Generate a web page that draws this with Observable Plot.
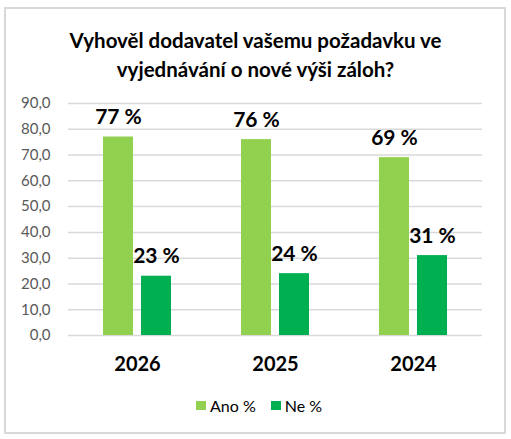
<!DOCTYPE html>
<html>
<head>
<meta charset="utf-8">
<script src="https://cdn.jsdelivr.net/npm/d3@7"></script>
<script src="https://cdn.jsdelivr.net/npm/@observablehq/plot@0.6"></script>
<style>
  body { margin: 0; background: #fff; font-family: Lato, "Open Sans", sans-serif; }
  #frame { position: absolute; left: 4px; top: 7px; width: 502px; height: 427px;
           border: 2px solid #d9d9d9; box-sizing: border-box; }
  #title { position: absolute; left: 0; top: 26px; width: 511px; text-align: center;
           font-weight: bold; font-size: 20.5px; line-height: 29px; color: #000; }
  #chart { position: absolute; left: 0; top: 80px; }
  #legend { position: absolute; left: 196px; top: 396px; font-size: 16px; color: #000;
            display: flex; align-items: center; }
  #legend .sw { display: inline-block; width: 10px; height: 9px; margin-right: 4px; }
  #legend .item { display: flex; align-items: center; margin-right: 15px; }
</style>
</head>
<body>
<div id="frame"></div>
<div id="title">Vyhověl dodavatel vašemu požadavku ve<br>vyjednávání o nové výši záloh?</div>
<div id="chart"></div>
<div id="legend"></div>
<script>
// hodnoty
const years = ["2026", "2025", "2024"];
const series = ["Ano %", "Ne %"];
const ano = [77, 76, 69];
const ne = [23, 24, 31];
const yTicks = [0, 10, 20, 30, 40, 50, 60, 70, 80, 90];
const colors = ["#92D050", "#00B050"];

const data = years.flatMap((year, i) => [
    {year, serie: series[0], value: ano[i]},
    {year, serie: series[1], value: ne[i]}
]);

const fmtTick = d => d3.format(".1f")(d).replace(".", ",");

const plot = Plot.plot({
    width: 511,
    height: 300,
    marginLeft: 68,
    marginRight: 29,
    marginTop: 23,
    marginBottom: 45,
    style: {fontFamily: "Lato, 'Open Sans', sans-serif", background: "transparent"},
    fx: {domain: years, padding: 0, label: null},
    x: {domain: series, paddingInner: 0.205, paddingOuter: 0.872, axis: null},
    y: {domain: [0, 90], label: null},
    color: {domain: series, range: colors},
    marks: [
        Plot.ruleY(yTicks, {stroke: "#d9d9d9", strokeWidth: 1.5, facet: "exclude"}),
        Plot.axisY(yTicks, {tickSize: 0, tickPadding: 18, tickFormat: fmtTick, fontSize: 15,
            fill: "#595959", label: null}),
        Plot.axisFx({anchor: "bottom", tickSize: 0, tickPadding: 21, fontSize: 20,
            fontWeight: "bold", fill: "#000", label: null}),
        Plot.barY(data, {fx: "year", x: "serie", y: "value", fill: "serie"}),
        Plot.text(data, {fx: "year", x: "serie", y: "value", text: d => `${d.value} %`,
            lineAnchor: "bottom", dy: -13, fontSize: 21, fontWeight: "bold", fill: "#000"})
    ]
});
document.getElementById("chart").appendChild(plot);

const legend = document.getElementById("legend");
series.forEach((s, i) => {
    const item = document.createElement("span");
    item.className = "item";
    item.innerHTML = `<span class="sw" style="background:${colors[i]}"></span>${s}`;
    legend.appendChild(item);
});
</script>
</body>
</html>
